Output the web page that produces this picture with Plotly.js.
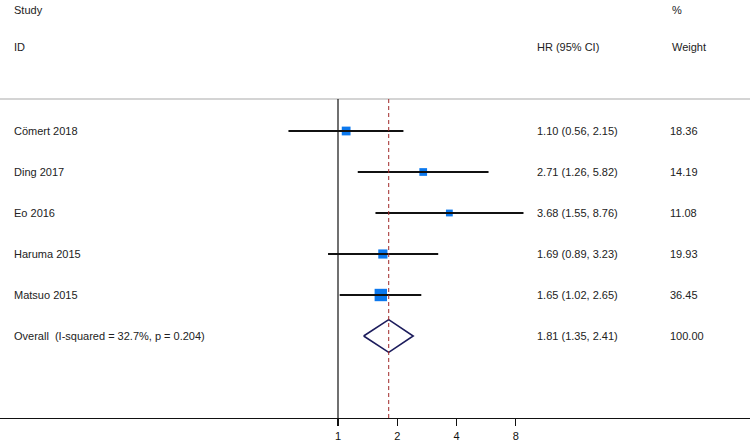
<!DOCTYPE html>
<html>
<head>
<meta charset="utf-8">
<script src="https://cdn.plot.ly/plotly-3.0.1.min.js"></script>
<style>
  html, body { margin: 0; padding: 0; background: #fff; }
  #root { width: 750px; height: 444px; }
</style>
</head>
<body>
<div id="root"></div>
<script>
// study data
var studies = ['Cömert 2018', 'Ding 2017', 'Eo 2016', 'Haruma 2015', 'Matsuo 2015'];
var hr = [1.10, 2.71, 3.68, 1.69, 1.65];
var ciLow = [0.56, 1.26, 1.55, 0.89, 1.02];
var ciHigh = [2.15, 5.82, 8.76, 3.23, 2.65];
var weights = [18.36, 14.19, 11.08, 19.93, 36.45];

// pooled estimate
var overallLabel = 'Overall  (I-squared = 32.7%, p = 0.204)';
var overallHr = 1.81;
var overallLow = 1.35;
var overallHigh = 2.41;
var overallWeight = 100.00;

var xTicks = [1, 2, 4, 8];

window.onload = buildForest;

function fmtCi(est, lo, hi) {
    return est.toFixed(2) + ' (' + lo.toFixed(2) + ', ' + hi.toFixed(2) + ')';
}

function buildForest() {
    var rows = studies.map(function (s, i) { return i + 1; });
    var overallRow = studies.length + 1;

    // weight boxes, area follows weight
    var boxes = {
        x: hr, y: rows, type: 'scatter', mode: 'markers',
        marker: {
            symbol: 'square',
            color: '#0b78ee',
            opacity: 1,
            size: weights.map(function (w) { return 2.05 * Math.sqrt(w); }),
            line: {width: 0}
        },
        showlegend: false
    };

    // CI whiskers as one broken line, drawn over the boxes
    var cx = [], cy = [];
    for (var i = 0; i < studies.length; i++) {
        cx.push(ciLow[i], ciHigh[i], null);
        cy.push(rows[i], rows[i], null);
    }
    var whiskers = {
        x: cx, y: cy, type: 'scatter', mode: 'lines',
        line: {color: '#111', width: 1.8},
        hoverinfo: 'skip', showlegend: false
    };

    var diamond = {
        x: [overallLow, overallHr, overallHigh, overallHr, overallLow],
        y: [overallRow, overallRow - 0.4, overallRow, overallRow + 0.4, overallRow],
        type: 'scatter', mode: 'lines',
        line: {color: '#1c1c5c', width: 1.6},
        showlegend: false
    };

    var txt = {family: 'Liberation Sans, Arial, sans-serif', size: 11, color: '#222'};
    var annotations = [];
    function addText(px, y, t) {
        annotations.push({
            xref: 'paper', yref: 'y', x: px / 750, y: y, text: t,
            xanchor: 'left', yanchor: 'middle', showarrow: false, font: txt
        });
    }

    // headers
    addText(12, -1.95, 'Study');
    addText(12, -1.05, 'ID');
    addText(670, -1.95, '%');
    addText(535, -1.05, 'HR (95% CI)');
    addText(670, -1.05, 'Weight');

    for (var j = 0; j < studies.length; j++) {
        addText(12, rows[j], studies[j]);
        addText(535, rows[j], fmtCi(hr[j], ciLow[j], ciHigh[j]));
        addText(668, rows[j], weights[j].toFixed(2));
    }
    addText(12, overallRow, overallLabel);
    addText(535, overallRow, fmtCi(overallHr, overallLow, overallHigh));
    addText(668, overallRow, overallWeight.toFixed(2));

    var shapes = [
        // rule under the header
        {type: 'line', xref: 'paper', yref: 'y', x0: 0, x1: 1, y0: 0.22, y1: 0.22,
            line: {color: '#aaa', width: 1.2}},
        // null line
        {type: 'line', xref: 'x', yref: 'y', x0: 1, x1: 1, y0: 0.22, y1: 8,
            line: {color: '#111', width: 1.2}},
        // pooled estimate line
        {type: 'line', xref: 'x', yref: 'y', x0: overallHr, x1: overallHr, y0: 0.22, y1: 8,
            line: {color: '#a02828', width: 1, dash: '4px,3px'}}
    ];

    var layout = {
        width: 750,
        height: 444,
        margin: {l: 0, r: 0, t: 0, b: 26},
        paper_bgcolor: '#fff',
        plot_bgcolor: '#fff',
        showlegend: false,
        xaxis: {
            type: 'log',
            range: [-1.7175, 2.0935],
            tickvals: xTicks,
            ticktext: xTicks.map(String),
            ticks: 'outside',
            ticklen: 7,
            tickwidth: 1.3,
            tickcolor: '#111',
            showline: true,
            linecolor: '#111',
            linewidth: 1.3,
            showgrid: false,
            zeroline: false,
            tickfont: {family: 'Liberation Sans, Arial, sans-serif', size: 11, color: '#111'},
            fixedrange: true
        },
        yaxis: {
            range: [8, -2.195],
            visible: false,
            showgrid: false,
            zeroline: false,
            fixedrange: true
        },
        shapes: shapes,
        annotations: annotations
    };

    Plotly.newPlot('root', [boxes, whiskers, diamond], layout, {displayModeBar: false, staticPlot: true});
}
</script>
</body>
</html>
